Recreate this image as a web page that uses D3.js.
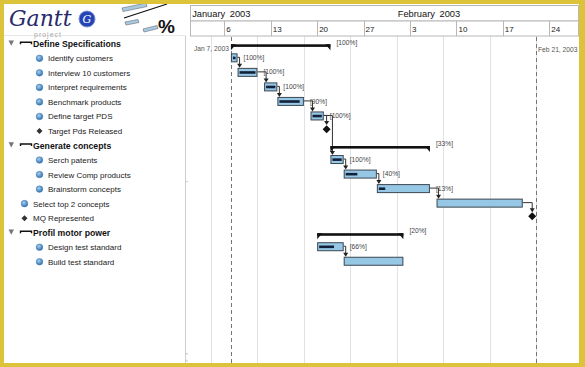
<!DOCTYPE html>
<html><head><meta charset="utf-8">
<script src="https://cdn.jsdelivr.net/npm/d3@7"></script>
<style>html,body{margin:0;padding:0;background:#fff;}svg{display:block;}</style>
</head><body>
<script>
// ---------- data ----------
const taskNames = ["Define Specifications","Identify customers","Interview 10 customers","Interpret requirements","Benchmark products","Define target PDS","Target Pds Released","Generate concepts","Serch patents","Review Comp products","Brainstorm concepts","Select top 2 concepts","MQ Represented","Profil motor power","Design test standard","Build test standard"];
const taskTypes = ["summary","task","task","task","task","task","milestone","summary","task","task","task","task","milestone","summary","task","task"];
const taskLevels = [0,1,1,1,1,1,1,0,1,1,1,0,0,0,1,1];
const taskStarts = ["2003-01-07","2003-01-07","2003-01-08","2003-01-12","2003-01-14","2003-01-19","2003-01-21","2003-01-22","2003-01-22","2003-01-24","2003-01-29","2003-02-07","2003-02-21","2003-01-20","2003-01-20","2003-01-24"];
const taskEnds = ["2003-01-22","2003-01-08","2003-01-11","2003-01-14","2003-01-18","2003-01-21","2003-01-21","2003-02-06","2003-01-24","2003-01-29","2003-02-06","2003-02-20","2003-02-21","2003-02-02","2003-01-24","2003-02-02"];
const taskProgress = [100,100,100,100,90,100,null,33,100,40,13,0,null,20,66,0];
const progressLabels = ["[100%]","[100%]","[100%]","[100%]","[90%]","[100%]","","[33%]","[100%]","[40%]","[13%]","","","[20%]","[66%]",""];
const dependencies = [[1,2],[2,3],[3,4],[4,5],[5,6],[5,8],[8,9],[9,10],[10,11],[11,12],[14,15]];
const monthLabels = ["January 2003","February 2003"];
const monthStarts = ["2003-01-01","2003-02-01"];
const projectStart = "2003-01-07", projectEnd = "2003-02-22";
const projectStartLabel = "Jan 7, 2003", projectEndLabel = "Feb 21, 2003";

// ---------- setup ----------
const W = 585, H = 367;
const P = s => new Date(s + "T00:00:00Z");
const svg = d3.select("body").append("svg").attr("width", W).attr("height", H);
const font = "'Liberation Sans', Arial, sans-serif";

const x = d3.scaleUtc().domain([P("2003-01-06"), P("2003-02-24")]).range([224.3, 549.3]);
const dayW = x(P("2003-01-07")) - x(P("2003-01-06"));
const y = d3.scalePoint().domain(d3.range(taskNames.length)).range([43.8, 261.75]);

const bodyTop = 36, bodyBottom = 363, chartLeft = 186, chartRight = 579;

// background
svg.append("rect").attr("width", W).attr("height", H).attr("fill", "#ffffff");

// weekend grid lines in body
const sats = d3.utcSaturday.range(P("2003-01-01"), P("2003-02-25"));
svg.append("g").selectAll("line").data(sats).join("line")
  .attr("x1", d => Math.round(x(d)) + 0.5).attr("x2", d => Math.round(x(d)) + 0.5)
  .attr("y1", bodyTop).attr("y2", bodyBottom)
  .attr("stroke", "#e2e2e2").attr("stroke-width", 1);

// project start/end dashed lines
[projectStart, projectEnd].forEach(d => {
  svg.append("line").attr("x1", Math.round(x(P(d))) + 0.5).attr("x2", Math.round(x(P(d))) + 0.5)
    .attr("y1", bodyTop + 1).attr("y2", bodyBottom)
    .attr("stroke", "#777").attr("stroke-dasharray", "4,3");
});
svg.append("text").attr("x", x(P(projectStart)) - 2).attr("y", 50.5).attr("text-anchor", "end")
  .attr("font-family", font).attr("font-size", 6.7).attr("fill", "#555").text(projectStartLabel);
svg.append("text").attr("x", x(P(projectEnd)) + 2).attr("y", 51.5)
  .attr("font-family", font).attr("font-size", 6.7).attr("fill", "#555").text(projectEndLabel);

// ---------- header (timeline) ----------
const hdr = svg.append("g");
hdr.append("rect").attr("x", 190.5).attr("y", 5.5).attr("width", chartRight - 191).attr("height", 15.5)
  .attr("fill", "#fff").attr("stroke", "#b8b8b8");
hdr.append("rect").attr("x", 190.5).attr("y", 21).attr("width", chartRight - 191).attr("height", 15)
  .attr("fill", "#fff").attr("stroke", "#b8b8b8");
monthLabels.forEach((m, i) => {
  const mx = Math.max(191, x(P(monthStarts[i]))) + 1;
  hdr.append("text").attr("x", mx).attr("y", 16.5).attr("font-family", font).attr("font-size", 9.3)
    .attr("fill", "#111").attr("word-spacing", 2).text(m);
});
const mondays = d3.utcMonday.range(P("2003-01-06"), P("2003-02-25"));
hdr.selectAll("line.wk").data(mondays).join("line")
  .attr("x1", d => Math.round(x(d)) + 0.5).attr("x2", d => Math.round(x(d)) + 0.5)
  .attr("y1", 21).attr("y2", 36).attr("stroke", "#b8b8b8");
hdr.selectAll("text.wk").data(mondays).join("text")
  .attr("x", d => x(d) + 2).attr("y", 32).attr("font-family", font).attr("font-size", 8)
  .attr("fill", "#222").text(d => d3.utcFormat("%-d")(d));

// ---------- left panel ----------
svg.append("line").attr("x1", 4).attr("x2", 186).attr("y1", 35.5).attr("y2", 35.5).attr("stroke", "#e6e6e6");
svg.append("line").attr("x1", 185.5).attr("x2", 185.5).attr("y1", 36).attr("y2", bodyBottom).attr("stroke", "#cfcfcf");

const panel = svg.append("g");
const defs = svg.append("defs");
const grad = defs.append("radialGradient").attr("id", "ball").attr("cx", "40%").attr("cy", "35%").attr("r", "65%");
grad.append("stop").attr("offset", "0%").attr("stop-color", "#a8d0f0");
grad.append("stop").attr("offset", "100%").attr("stop-color", "#2f6fae");

taskNames.forEach((name, i) => {
  const c = y(i);
  const lvl = taskLevels[i], type = taskTypes[i];
  if (type === "summary") {
    panel.append("path").attr("d", `M8.5,${c-3.2} L14,${c-3.2} L11.25,${c+2}Z`).attr("fill", "#777");
    panel.append("path").attr("d", `M20.5,${c+0.5} L20.5,${c-1.5} L31.5,${c-1.5} L31.5,${c+0.5}`)
      .attr("fill", "none").attr("stroke", "#111").attr("stroke-width", 1.4);
    panel.append("text").attr("x", 33).attr("y", c + 3).attr("font-family", font).attr("font-size", 8.7)
      .attr("font-weight", "bold").attr("fill", "#111").text(name);
  } else {
    const ix = lvl === 1 ? 39.5 : 24.5;
    const tx = lvl === 1 ? 48 : 33;
    if (type === "milestone") {
      panel.append("path").attr("d", `M${ix},${c-3} L${ix+3},${c} L${ix},${c+3} L${ix-3},${c}Z`).attr("fill", "#333");
    } else {
      panel.append("circle").attr("cx", ix).attr("cy", c).attr("r", 3.3).attr("fill", "url(#ball)")
        .attr("stroke", "#3a78b5").attr("stroke-width", 0.5);
    }
    panel.append("text").attr("x", tx).attr("y", c + 3).attr("font-family", font).attr("font-size", 8)
      .attr("fill", "#1a1a1a").text(name);
  }
});

// small splitter marks
svg.append("text").attr("x", 186).attr("y", 183).attr("font-family", font).attr("font-size", 6).attr("fill", "#666").text("-");
svg.append("text").attr("x", 186).attr("y", 355).attr("font-family", font).attr("font-size", 5).attr("fill", "#888").text("‹");
svg.append("text").attr("x", 186).attr("y", 362).attr("font-family", font).attr("font-size", 5).attr("fill", "#888").text("›");

// ---------- bars ----------
const bars = svg.append("g");
const arrowHead = (ax, ay) => `M${ax-2.5},${ay-4} L${ax+2.5},${ay-4} L${ax},${ay}Z`;

const barTop = i => y(i) - 5;
const barMid = i => y(i) - 1;
dependencies.forEach(([a, b]) => {
  const aEnd = x(P(taskEnds[a]));
  let bx, byTop;
  if (taskTypes[b] === "milestone") {
    bx = x(P(taskStarts[b])) + dayW / 2 - 0.5;
    byTop = y(b) - 6;
  } else {
    bx = Math.max(aEnd + 2, x(P(taskStarts[b])) + 2);
    byTop = barTop(b);
  }
  const ym = barMid(a);
  bars.append("path").attr("d", `M${aEnd},${ym} L${bx},${ym} L${bx},${byTop - 3}`)
    .attr("fill", "none").attr("stroke", "#333").attr("stroke-width", 1);
  bars.append("path").attr("d", arrowHead(bx, byTop)).attr("fill", "#222");
});

taskNames.forEach((name, i) => {
  const type = taskTypes[i];
  const x0 = x(P(taskStarts[i])), x1 = x(P(taskEnds[i]));
  const c = y(i);
  if (type === "summary") {
    const t = c + 0.5;
    bars.append("rect").attr("x", x0).attr("y", t).attr("width", x1 - x0).attr("height", 2.6).attr("fill", "#111");
    bars.append("path").attr("d", `M${x0},${t} L${x0+5},${t} L${x0},${t+6}Z`).attr("fill", "#111");
    bars.append("path").attr("d", `M${x1},${t} L${x1-5},${t} L${x1},${t+6}Z`).attr("fill", "#111");
  } else if (type === "milestone") {
    const mx = x0 + dayW / 2 - 0.5, my = c - 1.8;
    bars.append("path").attr("d", `M${mx},${my-4} L${mx+4},${my} L${mx},${my+4} L${mx-4},${my}Z`).attr("fill", "#111");
  } else {
    bars.append("rect").attr("x", x0 + 0.5).attr("y", barTop(i) + 0.5).attr("width", x1 - x0 - 1).attr("height", 8)
      .attr("fill", "#96c8e6").attr("stroke", "#3c4650").attr("stroke-width", 1);
    const p = taskProgress[i] || 0;
    if (p > 0) {
      const pw = (x1 - x0 - 4) * p / 100;
      bars.append("rect").attr("x", x0 + 2).attr("y", barTop(i) + 3.3).attr("width", pw).attr("height", 2.6)
        .attr("fill", "#12203a");
    }
  }
  if (progressLabels[i]) {
    bars.append("text").attr("x", x1 + 6).attr("y", type === "summary" ? c + 0.8 : c + 1.6)
      .attr("font-family", font).attr("font-size", 6.7).attr("fill", "#444").text(progressLabels[i]);
  }
});

// ---------- logo ----------
const logo = svg.append("g");
logo.append("text").attr("x", 9).attr("y", 25.5).attr("font-family", "'DejaVu Serif', serif").attr("font-style", "italic")
  .attr("font-size", 22).attr("fill", "#272a6b").text("Gantt");
logo.append("text").attr("x", 34).attr("y", 36.5).attr("font-family", font).attr("font-size", 7)
  .attr("fill", "#aaa").attr("letter-spacing", 1).text("project");
logo.append("circle").attr("cx", 87).attr("cy", 19).attr("r", 8).attr("fill", "#2443b5").attr("stroke", "#7b8fd6").attr("stroke-width", 1);
logo.append("text").attr("x", 87).attr("y", 23).attr("text-anchor", "middle").attr("font-family", "'DejaVu Serif', serif")
  .attr("font-style", "italic").attr("font-size", 11).attr("fill", "#fff").text("G");
logo.append("path").attr("d", "M122,8 L146,3 L147,6.5 L123,11.5Z").attr("fill", "#a9cbe0").attr("stroke", "#667").attr("stroke-width", 0.6);
logo.append("line").attr("x1", 124).attr("y1", 18).attr("x2", 167).attr("y2", 4).attr("stroke", "#111").attr("stroke-width", 1.3);
logo.append("path").attr("d", "M125,22 L138,19.5 L139,22.5 L126,25Z").attr("fill", "#a9cbe0").attr("stroke", "#667").attr("stroke-width", 0.6);
logo.append("path").attr("d", "M143,29 L157,25.5 L158,28.5 L144,32Z").attr("fill", "#a9cbe0").attr("stroke", "#667").attr("stroke-width", 0.6);
logo.append("text").attr("x", 158).attr("y", 33).attr("font-family", font).attr("font-weight", "bold")
  .attr("font-size", 19).attr("fill", "#111").text("%");

// ---------- yellow frame ----------
const frame = "#dcc33a";
svg.append("rect").attr("x", 0).attr("y", 0).attr("width", W).attr("height", 4).attr("fill", frame);
svg.append("rect").attr("x", 0).attr("y", 0).attr("width", 4).attr("height", H).attr("fill", frame);
svg.append("rect").attr("x", 579).attr("y", 0).attr("width", 6).attr("height", H).attr("fill", frame);
svg.append("rect").attr("x", 0).attr("y", 363).attr("width", W).attr("height", 4).attr("fill", frame);
</script>
</body></html>
